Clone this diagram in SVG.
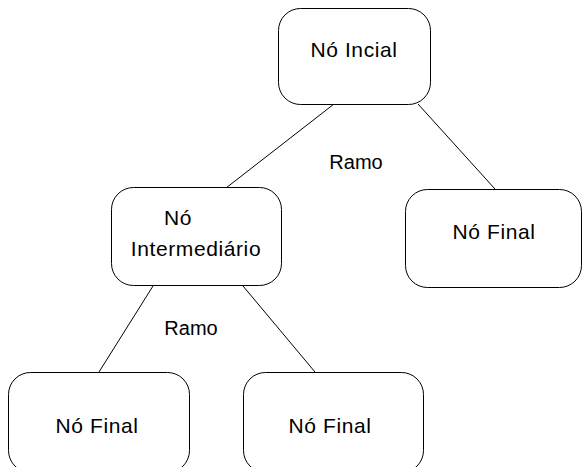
<svg xmlns="http://www.w3.org/2000/svg" width="583" height="467" viewBox="0 0 583 467">
<style>
.n{fill:#fff;stroke:#000;stroke-width:1}
.t{font-family:"Liberation Sans",Arial,sans-serif;font-size:20px;fill:#000;text-anchor:middle}
.l{font-size:21px;letter-spacing:0.6px}
.c{stroke:#000;stroke-width:1;fill:none}
</style>
<rect width="583" height="467" fill="#fff"/>
<g id="connectors">
<line class="c" x1="334" y1="104" x2="226" y2="188"/>
<line class="c" x1="418" y1="104" x2="495" y2="189"/>
<line class="c" x1="153" y1="286" x2="99" y2="372"/>
<line class="c" x1="243" y1="286" x2="315" y2="372"/>
<text class="t" x="356" y="169">Ramo</text>
<text class="t" x="191" y="335">Ramo</text>
</g>
<g id="n-inicial">
<rect class="n" x="278.5" y="8.5" width="152" height="96" rx="22"/>
<text class="t l" x="354" y="57">Nó Incial</text>
</g>
<g id="n-intermediario">
<rect class="n" x="111.5" y="187.5" width="170" height="98" rx="22"/>
<text class="t l" x="178" y="225">Nó</text>
<text class="t l" x="196" y="256">Intermediário</text>
</g>
<g id="n-final-direita">
<rect class="n" x="405.5" y="189.5" width="176" height="98" rx="22"/>
<text class="t l" x="494" y="239">Nó Final</text>
</g>
<g id="n-final-esq">
<rect class="n" x="8.5" y="372.5" width="181" height="100" rx="22"/>
<text class="t l" x="97" y="433">Nó Final</text>
</g>
<g id="n-final-meio">
<rect class="n" x="243.5" y="372.5" width="180" height="100" rx="22"/>
<text class="t l" x="330" y="433">Nó Final</text>
</g>
</svg>
